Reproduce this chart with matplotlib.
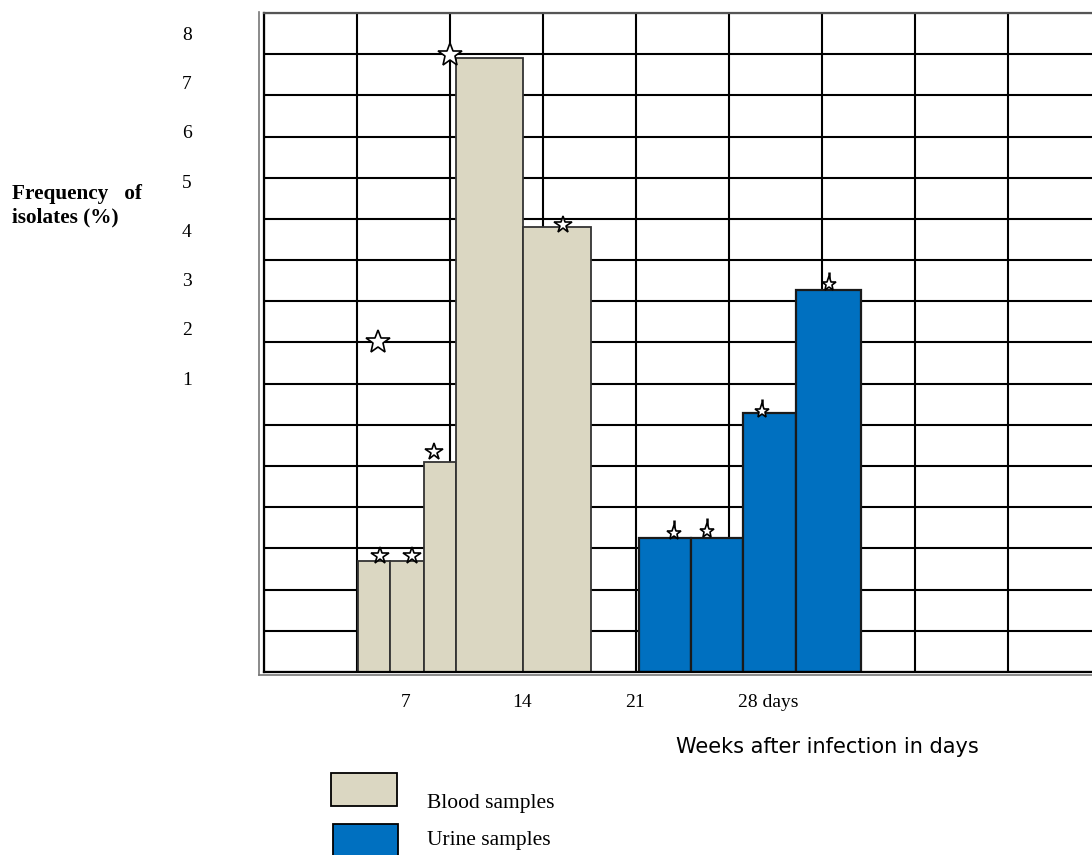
import numpy as np
from matplotlib import pyplot as plt
from matplotlib.patches import Rectangle
from matplotlib.lines import Line2D

# chart is drawn in grid units: x = grid columns, y = grid rows
blood_edges = [1.01, 1.355, 1.72, 2.065, 2.785, 3.516]
blood_heights = [2.7, 2.7, 5.1, 14.9, 10.8]
urine_edges = [4.03, 4.59, 5.15, 5.72, 6.42]
urine_heights = [3.26, 3.26, 6.28, 9.27]

# star marks over the bars
small_star_x = [1.25, 1.59, 1.83, 3.21]
small_star_y = [2.82, 2.82, 5.33, 10.85]
big_star_x = [2.0, 1.23]
big_star_y = [14.98, 8.0]
urine_star_x = [4.41, 4.76, 5.36, 6.07]
urine_star_y = [3.38, 3.43, 6.34, 9.42]

x_labels = ['7', '14', '21', '28 days']
x_label_pos = [1.52, 2.77, 3.99, 5.42]
y_labels = ['8', '7', '6', '5', '4', '3', '2', '1']

blood_col = '#DBD7C2'
urine_col = '#0070C0'
W, H = 1092, 855

fig = plt.figure(figsize=(W / 100, H / 100), dpi=100)
ax = fig.add_axes([264 / W, 1 - 672 / H, (1101 - 264) / W, (672 - 13) / H])

ax.bar(blood_edges[:-1], blood_heights, width=np.diff(blood_edges), align='edge',
       color=blood_col, edgecolor='#333333', linewidth=1.3, zorder=2)
ax.bar(urine_edges[:-1], urine_heights, width=np.diff(urine_edges), align='edge',
       color=urine_col, edgecolor='#1a1a1a', linewidth=1.6, zorder=2)

ax.plot(small_star_x, small_star_y, ls='none', marker='*', ms=13, mfc='white',
        mec='black', mew=1.2, zorder=4, clip_on=False)
ax.plot(big_star_x, big_star_y, ls='none', marker='*', ms=18, mfc='white',
        mec='black', mew=1.2, zorder=4, clip_on=False)
ax.vlines(urine_star_x, urine_star_y, np.array(urine_star_y) + 0.3, color='black',
          lw=1.8, zorder=4)
ax.plot(urine_star_x, urine_star_y, ls='none', marker='*', ms=11, mfc='white',
        mec='black', mew=1.2, zorder=5)

ax.set_xlim(0, 9)
ax.set_ylim(0, 16)
ax.set_xticks(np.arange(0, 10), minor=True)
ax.set_yticks(np.arange(0, 17), minor=True)
ax.grid(which='minor', color='black', linewidth=1.5)
ax.set_axisbelow(True)

ax.set_xticks(x_label_pos)
ax.set_xticklabels(x_labels, family='Liberation Serif', fontsize=14)
ypos = [15.51 - i * 1.197 for i in range(len(y_labels))]
ax.set_yticks(ypos)
ax.set_yticklabels(y_labels, family='Liberation Serif', fontsize=14)
ax.tick_params(which='both', length=0)
ax.tick_params(axis='x', pad=16)
ax.tick_params(axis='y', pad=52)

for s in ['left', 'bottom']:
    ax.spines[s].set_linewidth(1.6)
    ax.spines[s].set_color('black')
ax.spines['top'].set_color('#555555')
ax.spines['top'].set_linewidth(1.6)
ax.spines['right'].set_visible(False)

# outer thin frame lines (double border look)
fig.add_artist(Line2D([259 / W, 259 / W], [1 - 12 / H, 1 - 675 / H], color='#777777', lw=1.2))
fig.add_artist(Line2D([259 / W, 1], [1 - 675 / H, 1 - 675 / H], color='#777777', lw=1.2))

fig.text(12 / W, 1 - 194 / H, 'Frequency   of', family='Liberation Serif',
         weight='bold', fontsize=15.3, va='center', ha='left')
fig.text(12 / W, 1 - 217 / H, 'isolates (%)', family='Liberation Serif',
         weight='bold', fontsize=15.3, va='center', ha='left')

fig.text(676 / W, 1 - 747 / H, 'Weeks after infection in days', family='DejaVu Sans',
         fontsize=15, va='center', ha='left')

fig.add_artist(Rectangle((331 / W, 1 - 806 / H), 66 / W, 33 / H, transform=fig.transFigure,
                         facecolor=blood_col, edgecolor='black', lw=1.3))
fig.add_artist(Rectangle((333 / W, 1 - 858 / H), 65 / W, 34 / H, transform=fig.transFigure,
                         facecolor=urine_col, edgecolor='black', lw=1.3))
fig.text(427 / W, 1 - 803 / H, 'Blood samples', family='Liberation Serif',
         fontsize=15.5, va='center', ha='left')
fig.text(427 / W, 1 - 840 / H, 'Urine samples', family='Liberation Serif',
         fontsize=15.5, va='center', ha='left')

fig.savefig('out.png', dpi=100)
